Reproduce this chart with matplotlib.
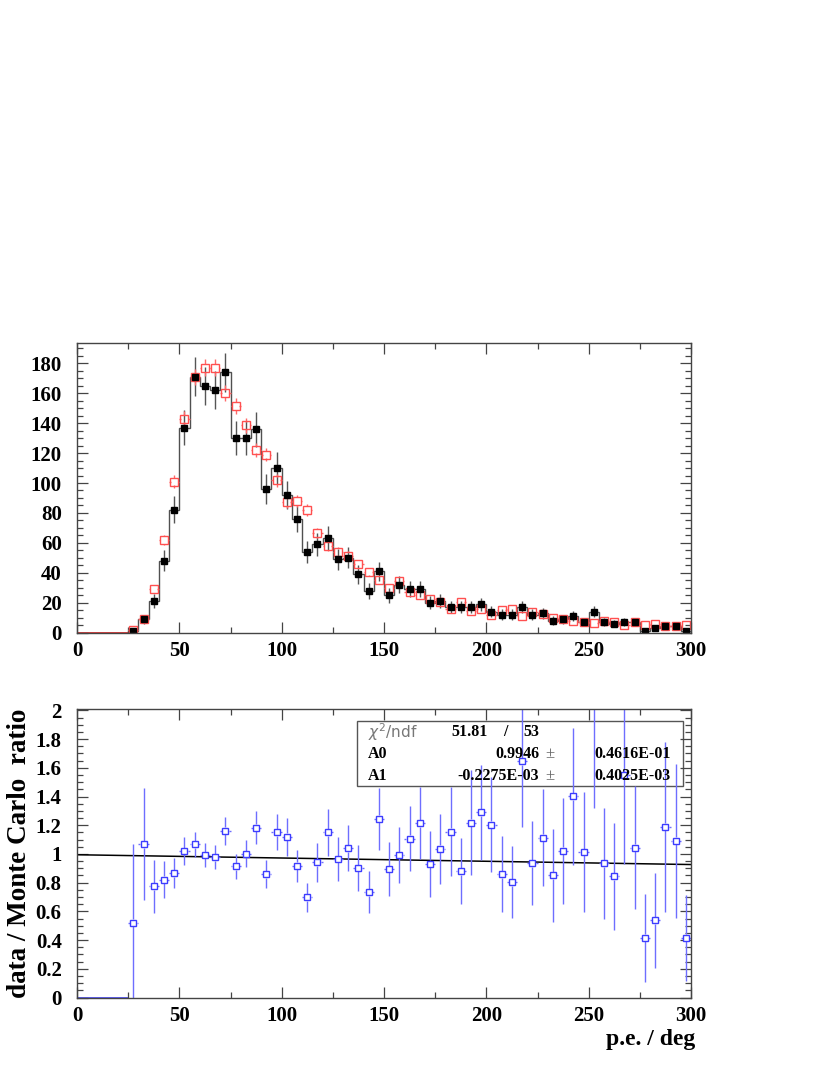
import matplotlib
matplotlib.use("Agg")
import matplotlib.pyplot as plt
import numpy as np
from matplotlib.ticker import MultipleLocator
from matplotlib.patches import Rectangle

# 5-unit bins from 0 to 300; the filled bins start at 27.5
bin_edges = np.arange(0, 305, 5)
n_empty = 5

data_counts = [1, 9, 21, 48, 82, 137, 171, 165, 162, 174, 130, 130, 136, 96, 110,
               92, 76, 54, 59, 63, 49, 50, 39, 28, 41, 25, 32, 29, 29, 20,
               21, 17, 17, 17, 19, 14, 12, 12, 17, 12, 13, 8, 9, 11, 7,
               14, 7, 6, 7, 7, 1, 3, 4.5, 4.5, 1.3]
mc_counts = [2, 9, 29, 62, 101, 143, 171, 177, 177, 160, 151.5, 138.6, 122.3, 119, 101.7,
             87.4, 88, 82, 66.7, 58, 54, 51.5, 46, 40.8, 35.2, 29.7, 34.6, 27.2, 25.4, 22.5,
             20.7, 15.6, 20.7, 14.7, 15.6, 12, 15, 15.6, 10.9, 13.6, 12.5, 9.8, 9.1, 8, 6.9,
             6.5, 7.6, 6.9, 5.1, 6.9, 5.4, 6, 4.5, 4.5, 5.4]
ratio = [0.52, 1.068, 0.776, 0.82, 0.865, 1.021, 1.068, 0.993, 0.977, 1.161, 0.914, 1.0,
         1.184, 0.86, 1.152, 1.119, 0.918, 0.699, 0.942, 1.152, 0.965, 1.04, 0.902, 0.732,
         1.245, 0.895, 0.993, 1.105, 1.215, 0.932, 1.035, 1.154, 0.879, 1.217, 1.29, 1.203,
         0.86, 0.804, 1.646, 0.935, 1.114, 0.851, 1.023, 1.401, 1.014, 2.15, 0.935, 0.846,
         1.55, 1.044, 0.417, 0.538, 1.189, 1.091, 0.417]
ratio_err = [0.55, 0.39, 0.185, 0.13, 0.105, 0.098, 0.088, 0.082, 0.085, 0.098, 0.086, 0.094,
             0.113, 0.096, 0.125, 0.13, 0.113, 0.10, 0.134, 0.163, 0.15, 0.16, 0.157, 0.146,
             0.215, 0.19, 0.193, 0.227, 0.25, 0.23, 0.246, 0.31, 0.23, 0.365, 0.33, 0.33,
             0.267, 0.25, 0.455, 0.293, 0.34, 0.326, 0.37, 0.475, 0.42, 0.83, 0.385, 0.373,
             0.62, 0.43, 0.306, 0.33, 0.59, 0.536, 0.30]

# fit: ratio = A0 + A1 * x
A0 = 0.9946
A1 = -0.2275e-3

centers = bin_edges[:-1] + 2.5
xc = centers[n_empty:]
data_full = np.concatenate([np.zeros(n_empty), data_counts])
mc_full = np.concatenate([np.zeros(n_empty), mc_counts])
ratio_full = np.concatenate([np.zeros(n_empty), ratio])

data_err = np.sqrt(data_counts)
mc_err = 0.42 * np.sqrt(mc_counts)

serif = "Liberation Serif"
tick_col = "#444444"
W, H = 830, 1075

fig = plt.figure(figsize=(W / 100, H / 100), dpi=100)
ax1 = fig.add_axes([77 / W, 1 - 632.6 / H, 614 / W, 289.3 / H])
ax2 = fig.add_axes([77 / W, 1 - 997.5 / H, 614 / W, 288.5 / H])


def style_axis(ax, ymaj, ymin):
    ax.xaxis.set_major_locator(MultipleLocator(50))
    ax.xaxis.set_minor_locator(MultipleLocator(25))
    ax.yaxis.set_major_locator(MultipleLocator(ymaj))
    ax.yaxis.set_minor_locator(MultipleLocator(ymin))
    ax.tick_params(which="both", direction="in", top=True, right=True,
                   color=tick_col, width=0.9)
    ax.tick_params(which="major", length=8)
    ax.tick_params(which="minor", length=4)
    ax.tick_params(axis="y", which="major", pad=11)
    ax.tick_params(axis="x", which="major", pad=6)
    for lab in ax.get_xticklabels() + ax.get_yticklabels():
        lab.set_fontfamily(serif)
        lab.set_fontweight("bold")
        lab.set_fontsize(15)
    for sp in ax.spines.values():
        sp.set_color(tick_col)
        sp.set_linewidth(1.0)


def outside_errors(ax, x, y, yerr, xerr, hx, hy, color):
    # error arms drawn only outside the open marker, like the original
    x = np.asarray(x, float)
    y = np.asarray(y, float)
    yerr = np.asarray(yerr, float)
    big = yerr > hy
    ax.vlines(x[big], y[big] + hy, y[big] + yerr[big], color=color, lw=1.0)
    ax.vlines(x[big], y[big] - yerr[big], y[big] - hy, color=color, lw=1.0)
    ax.hlines(y, x - xerr, x - hx, color=color, lw=1.0)
    ax.hlines(y, x + hx, x + xerr, color=color, lw=1.0)


# top panel: data histogram and Monte Carlo
ax1.stairs(data_full, bin_edges, color="#505050", lw=1.0)
ax1.stairs(mc_full[:n_empty], bin_edges[:n_empty + 1], color="#dd2222", lw=1.2)
ax1.errorbar(xc, data_counts, yerr=data_err, fmt="s", ms=5, mfc="black", mec="black",
             ecolor="#555555", elinewidth=1.0, capsize=0)
outside_errors(ax1, xc, mc_counts, mc_err, 2.5, 1.8, 2.5, "#ff6a6a")
ax1.plot(xc, mc_counts, "s", ms=5.5, mfc="none", mec="#ff5050", mew=1.0)
ax1.set_xlim(0, 300)
ax1.set_ylim(0, 193.4)
style_axis(ax1, 20, 5)

# bottom panel: ratio with linear fit
ax2.stairs(ratio_full[:n_empty], bin_edges[:n_empty + 1], color="#4444ff", lw=1.2)
xfit = np.array([0, 300])
ax2.plot(xfit, A0 + A1 * xfit, color="black", lw=1.1)
outside_errors(ax2, xc, ratio, ratio_err, 2.5, 1.6, 0.024, "#6e6eff")
ax2.plot(xc, ratio, "s", ms=5, mfc="white", mec="#3c3cff", mew=1.0)
ax2.set_xlim(0, 300)
ax2.set_ylim(0, 2.01)
style_axis(ax2, 0.2, 0.05)
ax2.set_yticks([0, 0.2, 0.4, 0.6, 0.8, 1.0, 1.2, 1.4, 1.6, 1.8, 2.0])
ax2.set_yticklabels(["0", "0.2", "0.4", "0.6", "0.8", "1", "1.2", "1.4", "1.6", "1.8", "2"],
                    fontfamily=serif, fontweight="bold", fontsize=15)

ax2.set_ylabel("data / Monte Carlo  ratio", fontfamily=serif, fontweight="bold",
               fontsize=19.5)
ax2.yaxis.set_label_coords(-0.073, 0.5)
ax2.set_xlabel("p.e. / deg", fontfamily=serif, fontweight="bold", fontsize=17,
               loc="right")
ax2.xaxis.set_label_coords(1.0065, -0.108)

# fit statistics box
bx0, bx1 = (356.7 - 77) / 614, (683 - 77) / 614
by0, by1 = (997.5 - 785.7) / 288.5, (997.5 - 721) / 288.5
ax2.add_patch(Rectangle((bx0, by0), bx1 - bx0, by1 - by0, transform=ax2.transAxes,
                        fill=False, ec="#555555", lw=1.0))


def px(x, y):
    return x / W, 1 - y / H


bold = dict(fontfamily=serif, fontweight="bold", fontsize=11.5, va="center")
rows = [731.7, 754.3, 775.7]
fig.text(*px(368, rows[0]), r"$\chi^{2}$/ndf", fontfamily="DejaVu Sans", fontsize=11,
         color="#777777", va="center")
fig.text(*px(451.7, rows[0]), "51.81", ha="left", **bold)
fig.text(*px(505, rows[0]), "/", ha="center", **bold)
fig.text(*px(523, rows[0]), "53", ha="left", **bold)
fig.text(*px(368, rows[1]), "A0", ha="left", **bold)
fig.text(*px(368, rows[2]), "A1", ha="left", **bold)
fig.text(*px(539.3, rows[1]), "0.9946", ha="right", **bold)
fig.text(*px(539.3, rows[2]), "-0.2275E-03", ha="right", **bold)
for r in rows[1:]:
    fig.text(*px(549.5, r), "±", ha="center", va="center", fontfamily=serif,
             fontsize=12, color="#666666")
fig.text(*px(594, rows[1]), "0.4616E-01", ha="left", **bold)
fig.text(*px(594, rows[2]), "0.4025E-03", ha="left", **bold)

fig.savefig("out.png", dpi=100)
